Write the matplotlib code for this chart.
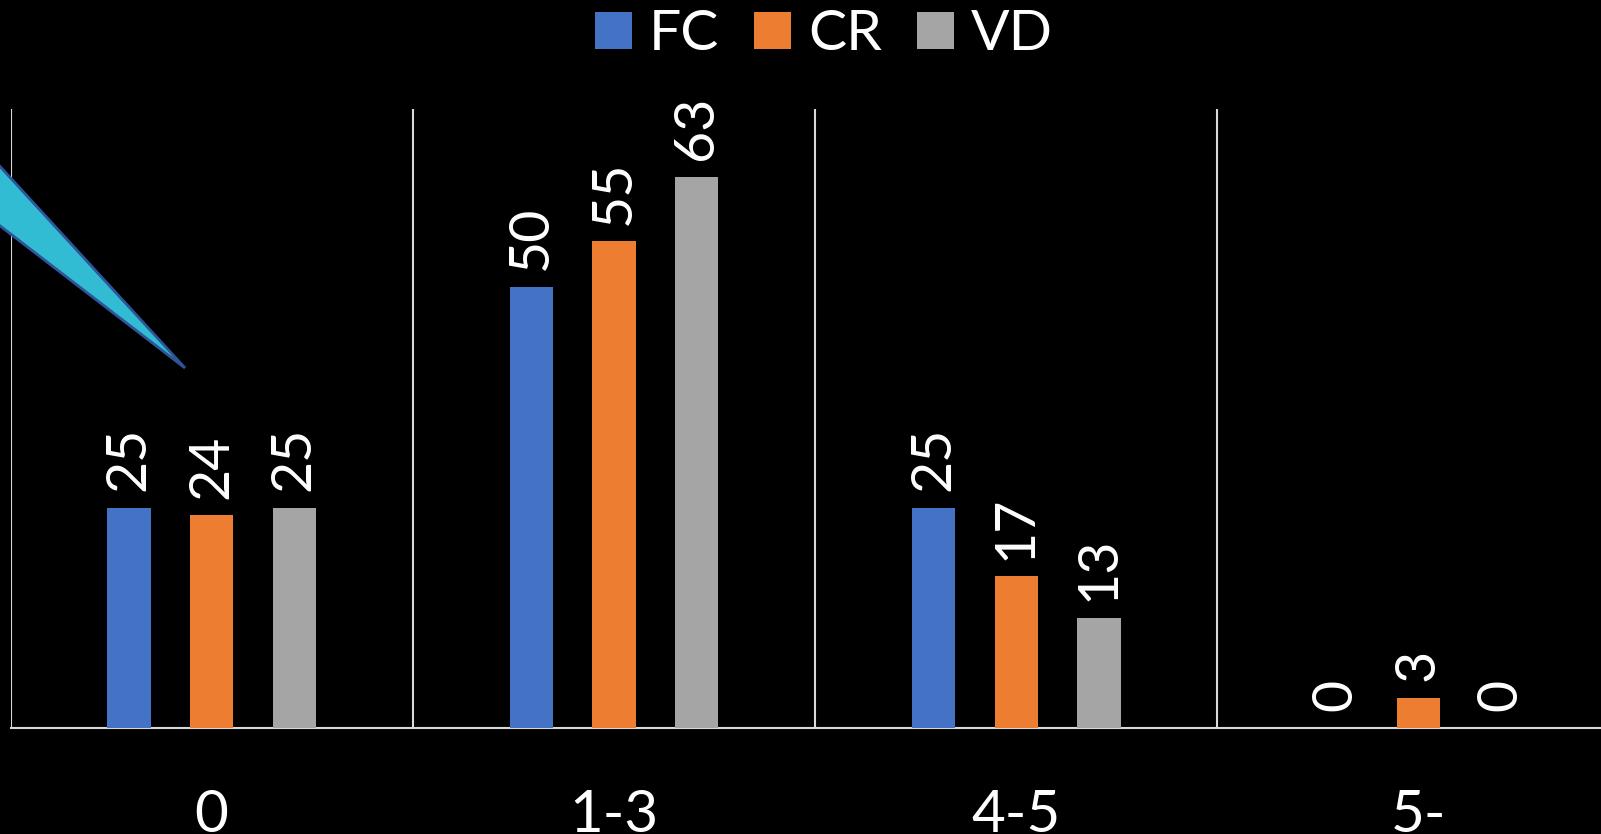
import numpy as np
import matplotlib.pyplot as plt
from matplotlib.patches import Polygon

plt.rcParams['font.family'] = ['Lato', 'DejaVu Sans']

categories = ['0', '1-3', '4-5', '5-']
fc = [25, 50, 25, 0]
cr = [24.1, 55.2, 17.2, 3.4]
vd = [25, 62.5, 12.5, 0]
series_names = ['FC', 'CR', 'VD']
colors = ['#4472C4', '#ED7D31', '#A5A5A5']

W, H = 1601, 834
fig = plt.figure(figsize=(W / 100, H / 100), dpi=100, facecolor='black')
ax = fig.add_axes([10.5 / W, 106 / H, 1609.2 / W, 619 / H], facecolor='black')

x = np.arange(len(categories))
bw = 0.108
step = 0.2056
for i, (vals, name, c) in enumerate(zip([fc, cr, vd], series_names, colors)):
    xs = x + (i - 1) * step
    ax.bar(xs, vals, width=bw, color=c, label=name, zorder=3)
    for xx, v in zip(xs, vals):
        ax.annotate(str(int(v + 0.5)), (xx, v), xytext=(0, 12), textcoords='offset points',
                    rotation=90, ha='center', va='bottom', color='white', fontsize=40)

ax.set_xlim(-0.5, len(categories) - 0.5)
ax.set_ylim(0, 70.2)
ax.set_yticks([])
ax.set_xticks(x)
ax.set_xticklabels(categories, fontsize=42, color='white')
ax.tick_params(axis='x', length=0, pad=44)
ax.set_xticks(np.arange(len(categories) + 1) - 0.5, minor=True)
ax.tick_params(axis='x', which='minor', length=0)
ax.grid(axis='x', which='minor', color='#D9D9D9', linewidth=1.5, zorder=1)
for s in ['top', 'right', 'left']:
    ax.spines[s].set_visible(False)
ax.spines['bottom'].set_color('#D9D9D9')
ax.spines['bottom'].set_linewidth(1.5)

fig.legend(loc='center', bbox_to_anchor=(824 / W, 1 - 35 / H), ncol=3, frameon=False,
           fontsize=41, labelcolor='white', handlelength=0.64, handleheight=0.64,
           handletextpad=0.3, columnspacing=0.62, borderaxespad=0)

# cyan callout wedge at top-left
wedge = Polygon([(-5, H - 161), (185, H - 368), (-5, H - 222)], closed=True,
                facecolor='#31BCD4', edgecolor='#2E5597', linewidth=2,
                transform=None, zorder=5)
fig.patches.append(wedge)

fig.savefig('out.png', dpi=100, facecolor='black')
